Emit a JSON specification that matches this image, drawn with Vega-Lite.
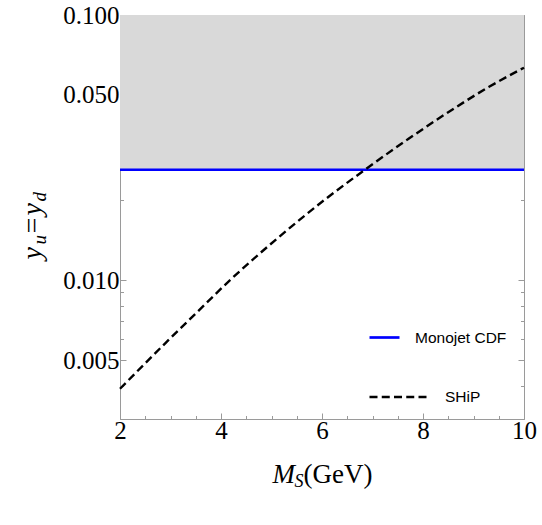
{
  "$schema": "https://vega.github.io/schema/vega-lite/v6.json",
  "width": 404,
  "height": 404,
  "autosize": "none",
  "padding": {"left": 120, "top": 15, "right": 18, "bottom": 106},
  "background": "white",
  "config": {
    "view": {"stroke": "#9a9a9a", "strokeWidth": 1},
    "axis": {
      "domain": false,
      "grid": false,
      "tickColor": "#9a9a9a",
      "tickWidth": 1,
      "labelFont": "Liberation Serif",
      "labelFontSize": 25,
      "labelColor": "black",
      "titleFont": "Liberation Serif",
      "titleColor": "black",
      "titleFontWeight": "normal",
      "zindex": 1
    },
    "legend": {
      "labelFont": "Liberation Sans",
      "labelFontSize": 15.5,
      "labelColor": "black",
      "padding": 0,
      "title": null
    }
  },
  "datasets": {
    "monojet": [{"limit": 0.0261, "name": "Monojet CDF"}],
    "ship": [
      {"ms": 2.0, "y": 0.0039, "curve": "SHiP"},
      {"ms": 2.9, "y": 0.0058, "curve": "SHiP"},
      {"ms": 3.5, "y": 0.0075, "curve": "SHiP"},
      {"ms": 4.2, "y": 0.0101, "curve": "SHiP"},
      {"ms": 5.1, "y": 0.0143, "curve": "SHiP"},
      {"ms": 6.05, "y": 0.0201, "curve": "SHiP"},
      {"ms": 6.85, "y": 0.0261, "curve": "SHiP"},
      {"ms": 7.7, "y": 0.0340, "curve": "SHiP"},
      {"ms": 8.5, "y": 0.0430, "curve": "SHiP"},
      {"ms": 9.3, "y": 0.0535, "curve": "SHiP"},
      {"ms": 10.0, "y": 0.0633, "curve": "SHiP"}
    ]
  },
  "layer": [
    {
      "data": {"name": "monojet"},
      "mark": {"type": "rect", "color": "#d9d9d9"},
      "encoding": {
        "x": {"datum": 2, "type": "quantitative", "axis": null, "scale": {"domain": [2, 10], "nice": false, "zero": false}},
        "x2": {"datum": 10},
        "y": {"field": "limit", "type": "quantitative", "axis": null, "scale": {"type": "log", "domain": [0.003, 0.1], "nice": false}},
        "y2": {"datum": 0.1}
      }
    },
    {
      "data": {"name": "monojet"},
      "mark": {"type": "rule", "strokeWidth": 2.7},
      "encoding": {
        "y": {
          "field": "limit", "type": "quantitative",
          "scale": {"type": "log", "domain": [0.003, 0.1], "nice": false},
          "axis": {
            "orient": "left", "values": [0.005, 0.01, 0.05, 0.1], "format": ".3f",
            "labelFont": "Liberation Serif", "labelFontSize": 25,
            "tickSize": -6, "labelPadding": 7,
            "title": "y", "titleFont": "Liberation Serif", "titleFontStyle": "italic", "titleFontSize": 28,
            "titleAngle": -90, "titleAlign": "left", "titleBaseline": "alphabetic",
            "titleX": -80, "titleY": 244
          }
        },
        "color": {
          "field": "name", "type": "nominal",
          "scale": {"range": ["#0000ff"]},
          "legend": {
            "orient": "none", "legendX": 248, "legendY": 306,
            "symbolType": "stroke", "symbolSize": 900, "symbolStrokeWidth": 2.7,
            "labelOffset": 14
          }
        }
      }
    },
    {
      "data": {"name": "ship"},
      "mark": {"type": "line", "color": "black", "strokeWidth": 2.4, "interpolate": "monotone"},
      "encoding": {
        "x": {
          "field": "ms", "type": "quantitative",
          "scale": {"domain": [2, 10], "nice": false, "zero": false},
          "axis": {
            "orient": "bottom", "values": [2, 4, 6, 8, 10], "format": "d",
            "labelFont": "Liberation Serif", "labelFontSize": 25,
            "tickSize": -6, "labelPadding": 5, "labelFlush": false,
            "title": "(GeV)", "titleFont": "Liberation Serif", "titleFontSize": 27,
            "titleAlign": "left", "titleBaseline": "alphabetic",
            "titleX": 183, "titleY": 63
          }
        },
        "y": {
          "field": "y", "type": "quantitative",
          "scale": {"type": "log", "domain": [0.003, 0.1], "nice": false},
          "axis": {
            "orient": "left",
            "values": [0.003, 0.004, 0.006, 0.007, 0.008, 0.009, 0.02, 0.03, 0.04, 0.06, 0.07, 0.08, 0.09],
            "labels": false, "tickSize": -3.5,
            "title": "u", "titleFont": "Liberation Serif", "titleFontStyle": "italic", "titleFontSize": 19,
            "titleAngle": -90, "titleAlign": "left", "titleBaseline": "alphabetic",
            "titleX": -75, "titleY": 229
          }
        },
        "strokeDash": {
          "field": "curve", "type": "nominal",
          "scale": {"range": [[8, 4.25]]},
          "legend": {
            "orient": "none", "legendX": 248, "legendY": 352,
            "symbolType": "stroke", "symbolSize": 3249, "symbolStrokeWidth": 2.4,
            "symbolStrokeColor": "black", "labelOffset": 17
          }
        }
      }
    },
    {
      "data": {"name": "ship"},
      "mark": {"type": "point", "opacity": 0},
      "encoding": {
        "x": {
          "field": "ms", "type": "quantitative",
          "scale": {"domain": [2, 10], "nice": false, "zero": false},
          "axis": {
            "orient": "bottom",
            "values": [2.5, 3, 3.5, 4.5, 5, 5.5, 6.5, 7, 7.5, 8.5, 9, 9.5],
            "labels": false, "tickSize": -3.5,
            "title": "M", "titleFont": "Liberation Serif", "titleFontStyle": "italic", "titleFontSize": 27,
            "titleAlign": "left", "titleBaseline": "alphabetic",
            "titleX": 152, "titleY": 63
          }
        },
        "y": {
          "field": "y", "type": "quantitative",
          "scale": {"type": "log", "domain": [0.003, 0.1], "nice": false},
          "axis": {
            "orient": "right", "values": [0.005, 0.01, 0.05, 0.1],
            "labels": false, "tickSize": -6,
            "title": "=", "titleFont": "Liberation Serif", "titleFontSize": 28,
            "titleAngle": -90, "titleAlign": "left", "titleBaseline": "alphabetic",
            "titleX": -484, "titleY": 218
          }
        }
      }
    },
    {
      "data": {"name": "ship"},
      "mark": {"type": "point", "opacity": 0},
      "encoding": {
        "x": {
          "field": "ms", "type": "quantitative",
          "scale": {"domain": [2, 10], "nice": false, "zero": false},
          "axis": {
            "orient": "top", "values": [2, 4, 6, 8, 10],
            "labels": false, "tickSize": -6,
            "title": "S", "titleFont": "Liberation Serif", "titleFontStyle": "italic", "titleFontSize": 18,
            "titleAlign": "left", "titleBaseline": "alphabetic",
            "titleX": 174, "titleY": 471
          }
        },
        "y": {
          "field": "y", "type": "quantitative",
          "scale": {"type": "log", "domain": [0.003, 0.1], "nice": false},
          "axis": {
            "orient": "right",
            "values": [0.003, 0.004, 0.006, 0.007, 0.008, 0.009, 0.02, 0.03, 0.04, 0.06, 0.07, 0.08, 0.09],
            "labels": false, "tickSize": -3.5,
            "title": "y", "titleFont": "Liberation Serif", "titleFontStyle": "italic", "titleFontSize": 28,
            "titleAngle": -90, "titleAlign": "left", "titleBaseline": "alphabetic",
            "titleX": -484, "titleY": 200
          }
        }
      }
    },
    {
      "data": {"name": "ship"},
      "mark": {"type": "point", "opacity": 0},
      "encoding": {
        "x": {
          "field": "ms", "type": "quantitative",
          "scale": {"domain": [2, 10], "nice": false, "zero": false},
          "axis": {
            "orient": "top",
            "values": [2.5, 3, 3.5, 4.5, 5, 5.5, 6.5, 7, 7.5, 8.5, 9, 9.5],
            "labels": false, "tickSize": -3.5, "title": null
          }
        },
        "y": {
          "field": "y", "type": "quantitative",
          "scale": {"type": "log", "domain": [0.003, 0.1], "nice": false},
          "axis": {
            "orient": "left", "values": [0.1], "labels": false, "ticks": false,
            "title": "d", "titleFont": "Liberation Serif", "titleFontStyle": "italic", "titleFontSize": 19,
            "titleAngle": -90, "titleAlign": "left", "titleBaseline": "alphabetic",
            "titleX": -75, "titleY": 186
          }
        }
      }
    }
  ],
  "resolve": {"axis": {"x": "independent", "y": "independent"}}
}
